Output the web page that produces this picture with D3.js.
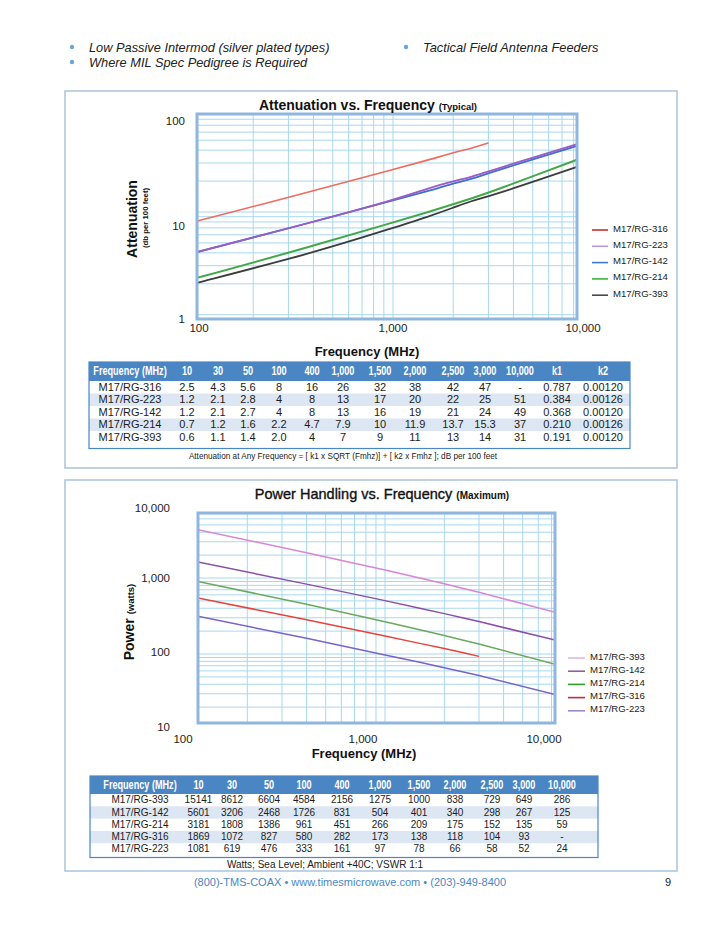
<!DOCTYPE html>
<html>
<head>
<meta charset="utf-8">
<script src="https://cdn.jsdelivr.net/npm/d3@7/dist/d3.min.js"></script>
<style>
  body { margin: 0; background: #fff; }
  svg { display: block; font-family: "Liberation Sans", Arial, Helvetica, sans-serif; }
</style>
</head>
<body>
<svg id="page" width="720" height="931"></svg>
<script>
// Table frequencies (MHz)
var freqLabels = ["10", "30", "50", "100", "400", "1,000", "1,500", "2,000", "2,500", "3,000", "10,000"];
var freqValues = [10, 30, 50, 100, 400, 1000, 1500, 2000, 2500, 3000, 10000];

// Attenuation, dB per 100 feet
var attCables = ["M17/RG-316", "M17/RG-223", "M17/RG-142", "M17/RG-214", "M17/RG-393"];
var attRG316 = ["2.5", "4.3", "5.6", "8", "16", "26", "32", "38", "42", "47", "-"];
var attRG223 = ["1.2", "2.1", "2.8", "4", "8", "13", "17", "20", "22", "25", "51"];
var attRG142 = ["1.2", "2.1", "2.7", "4", "8", "13", "16", "19", "21", "24", "49"];
var attRG214 = ["0.7", "1.2", "1.6", "2.2", "4.7", "7.9", "10", "11.9", "13.7", "15.3", "37"];
var attRG393 = ["0.6", "1.1", "1.4", "2.0", "4", "7", "9", "11", "13", "14", "31"];
var attK1 = ["0.787", "0.384", "0.368", "0.210", "0.191"];
var attK2 = ["0.00120", "0.00126", "0.00120", "0.00126", "0.00120"];

// Power handling, watts
var powCables = ["M17/RG-393", "M17/RG-142", "M17/RG-214", "M17/RG-316", "M17/RG-223"];
var powRG393 = ["15141", "8612", "6604", "4584", "2156", "1275", "1000", "838", "729", "649", "286"];
var powRG142 = ["5601", "3206", "2468", "1726", "831", "504", "401", "340", "298", "267", "125"];
var powRG214 = ["3181", "1808", "1386", "961", "451", "266", "209", "175", "152", "135", "59"];
var powRG316 = ["1869", "1072", "827", "580", "282", "173", "138", "118", "104", "93", "-"];
var powRG223 = ["1081", "619", "476", "333", "161", "97", "78", "66", "58", "52", "24"];

// Axis tick labels
var attYTicks = [1, 10, 100];
var powYTicks = [10, 100, 1000, 10000];
var freqTicks = [100, 1000, 10000];

var bulletTexts = ["Low Passive Intermod (silver plated types)", "Where MIL Spec Pedigree is Required", "Tactical Field Antenna Feeders"];

var page = d3.select("#page");
var fmt = d3.format(",");

page.append("rect").attr("width", 720).attr("height", 931).attr("fill", "#ffffff");

// bullets at the top
var bulletPos = [[72, 51.5], [72, 66.5], [406, 51.5]];
bulletTexts.forEach(function (t, i) {
    page.append("circle")
        .attr("cx", bulletPos[i][0]).attr("cy", bulletPos[i][1] - 4.5)
        .attr("r", 2.2).attr("fill", "#6aa6dc");
    page.append("text")
        .attr("x", bulletPos[i][0] + 17).attr("y", bulletPos[i][1])
        .style("font-size", "12.8px").style("font-style", "italic")
        .attr("fill", "#222").text(t);
});

// panels
page.append("rect").attr("x", 65).attr("y", 91).attr("width", 612).attr("height", 377)
    .attr("fill", "none").attr("stroke", "#a9c3dc").attr("stroke-width", 1.5);
page.append("rect").attr("x", 65).attr("y", 480).attr("width", 612).attr("height", 391)
    .attr("fill", "none").attr("stroke", "#a9c3dc").attr("stroke-width", 1.5);

function seriesPoints(values) {
    return freqValues.map(function (f, i) { return { f: f, v: values[i] }; })
        .filter(function (d) { return d.v !== "-"; })
        .map(function (d) { return { f: d.f, v: +d.v }; });
}

function drawLogChart(opt) {
    var x = d3.scaleLog().domain([100, 10000]).range(opt.xRange);
    var y = d3.scaleLog().domain(opt.yDomain).range(opt.yRange);
    var b = opt.box;

    page.append("clipPath").attr("id", opt.id)
        .append("rect")
        .attr("x", b.left).attr("y", b.top)
        .attr("width", b.right - b.left).attr("height", b.bottom - b.top);

    var plot = page.append("g").attr("clip-path", "url(#" + opt.id + ")");

    plot.selectAll(".vgrid").data(x.ticks()).enter().append("line")
        .attr("x1", function (d) { return x(d); }).attr("x2", function (d) { return x(d); })
        .attr("y1", b.top).attr("y2", b.bottom)
        .attr("stroke", "#a8d8ef").attr("stroke-width", 1);

    plot.selectAll(".hgrid").data(y.ticks()).enter().append("line")
        .attr("x1", b.left).attr("x2", b.right)
        .attr("y1", function (d) { return y(d); }).attr("y2", function (d) { return y(d); })
        .attr("stroke", "#a8d8ef").attr("stroke-width", 1);

    var line = d3.line()
        .curve(opt.curve)
        .x(function (d) { return x(d.f); })
        .y(function (d) { return y(d.v); });

    opt.series.forEach(function (s) {
        plot.append("path")
            .datum(seriesPoints(s.values))
            .attr("d", line)
            .attr("fill", "none")
            .attr("stroke", s.color)
            .attr("stroke-width", s.width);
    });

    // frame
    page.append("rect")
        .attr("x", b.left).attr("y", b.top)
        .attr("width", b.right - b.left).attr("height", b.bottom - b.top)
        .attr("fill", "none").attr("stroke", "#8fb6de").attr("stroke-width", 3);

    // printed tick labels (they sit slightly off the grid in the original)
    var xl = d3.scaleLog().domain(freqTicks).range(opt.xLabelPos);
    var yl = d3.scaleLog().domain(opt.yTicks).range(opt.yLabelPos);

    page.selectAll(".xl-" + opt.id).data(freqTicks).enter().append("text")
        .attr("x", function (d) { return xl(d); })
        .attr("y", opt.xLabelY)
        .attr("text-anchor", "middle").attr("dominant-baseline", "middle")
        .style("font-size", "11.5px").attr("fill", "#222")
        .text(function (d) { return fmt(d); });

    page.selectAll(".yl-" + opt.id).data(opt.yTicks).enter().append("text")
        .attr("x", opt.yLabelX)
        .attr("y", function (d) { return yl(d); })
        .attr("text-anchor", "end").attr("dominant-baseline", "middle")
        .style("font-size", "11.5px").attr("fill", "#222")
        .text(function (d) { return fmt(d); });

    // legend
    opt.series.slice().sort(function (a, b2) { return a.legendOrder - b2.legendOrder; })
        .forEach(function (s, i) {
            var ly = opt.legend.y + i * opt.legend.step;
            page.append("line")
                .attr("x1", opt.legend.x).attr("x2", opt.legend.x + opt.legend.len)
                .attr("y1", ly + 1).attr("y2", ly + 1)
                .attr("stroke", s.legendColor).attr("stroke-width", 1.6);
            page.append("text")
                .attr("x", opt.legend.x + opt.legend.len + 5).attr("y", ly)
                .attr("dominant-baseline", "middle")
                .style("font-size", "9.6px").attr("fill", "#222")
                .text(s.name);
        });
}

// Attenuation vs. Frequency
drawLogChart({
    id: "att",
    xRange: [193, 593],
    yDomain: [1, 100],
    yRange: [314.7, 109.3],
    box: { left: 197, right: 577, top: 114, bottom: 319 },
    curve: d3.curveBasis,
    xLabelPos: [199, 393, 583], xLabelY: 329,
    yTicks: attYTicks, yLabelPos: [320, 227, 122], yLabelX: 185,
    legend: { x: 592, y: 229, step: 16.3, len: 16 },
    series: [
        { name: attCables[0], values: attRG316, color: "#ee6b5f", legendColor: "#c8302c", width: 1.6, legendOrder: 0 },
        { name: attCables[2], values: attRG142, color: "#3f6fd0", legendColor: "#3f78c8", width: 1.8, legendOrder: 2 },
        { name: attCables[1], values: attRG223, color: "#9b5cc4", legendColor: "#b59bc9", width: 1.8, legendOrder: 1 },
        { name: attCables[3], values: attRG214, color: "#44a848", legendColor: "#3cb03c", width: 2, legendOrder: 3 },
        { name: attCables[4], values: attRG393, color: "#3b3d3b", legendColor: "#4a4a4a", width: 1.8, legendOrder: 4 }
    ]
});

// Power Handling vs. Frequency
drawLogChart({
    id: "pow",
    xRange: [188, 582],
    yDomain: [10, 10000],
    yRange: [730, 502],
    box: { left: 198, right: 555, top: 513, bottom: 723 },
    curve: d3.curveLinear,
    xLabelPos: [183, 363, 544], xLabelY: 740,
    yTicks: powYTicks, yLabelPos: [728, 653, 579, 509], yLabelX: 170,
    legend: { x: 568, y: 657, step: 13.2, len: 17 },
    series: [
        { name: powCables[0], values: powRG393, color: "#d886d3", legendColor: "#e2b5dc", width: 1.5, legendOrder: 0 },
        { name: powCables[1], values: powRG142, color: "#8a4ea6", legendColor: "#8a62a2", width: 1.5, legendOrder: 1 },
        { name: powCables[2], values: powRG214, color: "#6aa95c", legendColor: "#2fa02f", width: 1.5, legendOrder: 2 },
        { name: powCables[3], values: powRG316, color: "#e8423e", legendColor: "#c02a42", width: 1.5, legendOrder: 3 },
        { name: powCables[4], values: powRG223, color: "#7863c8", legendColor: "#9a8ac8", width: 1.5, legendOrder: 4 }
    ]
});

// chart titles
var t1 = page.append("text").attr("x", 368).attr("y", 110).attr("text-anchor", "middle")
    .style("font-size", "14px").style("font-weight", "bold").attr("fill", "#111");
t1.append("tspan").text("Attenuation vs. Frequency ");
t1.append("tspan").style("font-size", "9.5px").text("(Typical)");

var t2 = page.append("text").attr("x", 382).attr("y", 499).attr("text-anchor", "middle")
    .style("font-size", "14.5px").attr("fill", "#111");
t2.append("tspan").attr("stroke", "#111").attr("stroke-width", 0.35).text("Power Handling vs. Frequency ");
t2.append("tspan").style("font-size", "10px").style("font-weight", "bold").text("(Maximum)");

// axis titles
page.append("text").attr("x", 367).attr("y", 356).attr("text-anchor", "middle")
    .style("font-size", "13px").style("font-weight", "bold").attr("fill", "#111")
    .text("Frequency (MHz)");
page.append("text").attr("x", 364).attr("y", 758).attr("text-anchor", "middle")
    .style("font-size", "13px").style("font-weight", "bold").attr("fill", "#111")
    .text("Frequency (MHz)");

page.append("text").attr("transform", "translate(137,219) rotate(-90)").attr("text-anchor", "middle")
    .style("font-size", "14px").style("font-weight", "bold").attr("fill", "#111")
    .text("Attenuation");
page.append("text").attr("transform", "translate(148,218) rotate(-90)").attr("text-anchor", "middle")
    .style("font-size", "7.8px").style("font-weight", "bold").attr("fill", "#111")
    .text("(db per 100 feet)");

var pt = page.append("text").attr("transform", "translate(134,622) rotate(-90)").attr("text-anchor", "middle")
    .style("font-weight", "bold").attr("fill", "#111");
pt.append("tspan").style("font-size", "14px").text("Power ");
pt.append("tspan").style("font-size", "9.5px").text("(watts)");

// data tables
function drawTable(opt) {
    var t = page.append("g");
    var w = opt.x1 - opt.x0;
    var bottom = opt.rowTop + opt.rows.length * opt.rowH + opt.pad;
    var headMid = (opt.y0 + opt.rowTop) / 2 + 0.5;

    t.append("rect").attr("x", opt.x0).attr("y", opt.y0).attr("width", w).attr("height", bottom - opt.y0)
        .attr("fill", "#ffffff");
    t.append("rect").attr("x", opt.x0).attr("y", opt.y0).attr("width", w).attr("height", opt.rowTop - opt.y0)
        .attr("fill", "#4b86c4");

    opt.rows.forEach(function (row, i) {
        if (i % 2 === 1) {
            t.append("rect").attr("x", opt.x0).attr("y", opt.rowTop + i * opt.rowH)
                .attr("width", w).attr("height", opt.rowH).attr("fill", "#dde7f4");
        }
    });

    t.append("rect").attr("x", opt.x0).attr("y", opt.y0).attr("width", w).attr("height", bottom - opt.y0)
        .attr("fill", "none").attr("stroke", "#4b86c4").attr("stroke-width", 1.2);

    // header type is a condensed bold face: squeeze it horizontally
    t.selectAll(".hd").data(opt.header).enter().append("text")
        .attr("transform", function (d, i) { return "translate(" + opt.cols[i] + "," + headMid + ") scale(0.76,1)"; })
        .attr("text-anchor", "middle").attr("dominant-baseline", "middle")
        .style("font-size", "12px").style("font-weight", "bold").attr("fill", "#ffffff")
        .text(function (d) { return d; });

    opt.rows.forEach(function (row, r) {
        t.selectAll(".c" + r).data(row).enter().append("text")
            .attr("x", function (d, i) { return opt.cols[i]; })
            .attr("y", opt.rowTop + (r + 0.5) * opt.rowH + 0.5)
            .attr("text-anchor", "middle").attr("dominant-baseline", "middle")
            .style("font-size", opt.fontSize).attr("fill", "#1b1b1b")
            .text(function (d) { return d; });
    });

    page.append("text").attr("x", opt.captionX).attr("y", bottom + opt.captionDy)
        .attr("text-anchor", "middle")
        .style("font-size", opt.captionSize).attr("fill", "#222")
        .text(opt.caption);
}

var attSeries = [attRG316, attRG223, attRG142, attRG214, attRG393];
drawTable({
    x0: 89, x1: 630, y0: 362, rowTop: 381, rowH: 12.5, pad: 5,
    cols: [130, 187, 218, 248, 279, 312, 343, 380, 415, 453, 485, 520, 557, 603],
    header: ["Frequency (MHz)"].concat(freqLabels, ["k1", "k2"]),
    rows: attCables.map(function (c, i) { return [c].concat(attSeries[i], [attK1[i], attK2[i]]); }),
    fontSize: "11px",
    caption: "Attenuation at Any Frequency = [ k1 x SQRT (Fmhz)] + [ k2 x Fmhz ]; dB per 100 feet",
    captionX: 343, captionDy: 10, captionSize: "8.2px"
});

var powSeries = [powRG393, powRG142, powRG214, powRG316, powRG223];
drawTable({
    x0: 90, x1: 598, y0: 776, rowTop: 794, rowH: 12.3, pad: 2,
    cols: [140, 198.5, 232, 269, 304, 342, 380, 419, 455, 492, 524, 562],
    header: ["Frequency (MHz)"].concat(freqLabels),
    rows: powCables.map(function (c, i) { return [c].concat(powSeries[i]); }),
    fontSize: "10px",
    caption: "Watts; Sea Level; Ambient +40C; VSWR 1:1",
    captionX: 325, captionDy: 10, captionSize: "10px"
});

// footer
page.append("text").attr("x", 350).attr("y", 886).attr("text-anchor", "middle")
    .style("font-size", "11px").attr("fill", "#4a86c5")
    .text("(800)-TMS-COAX \u2022 www.timesmicrowave.com \u2022 (203)-949-8400");
page.append("text").attr("x", 668).attr("y", 886).attr("text-anchor", "middle")
    .style("font-size", "11px").attr("fill", "#222").text("9");
</script>
</body>
</html>
